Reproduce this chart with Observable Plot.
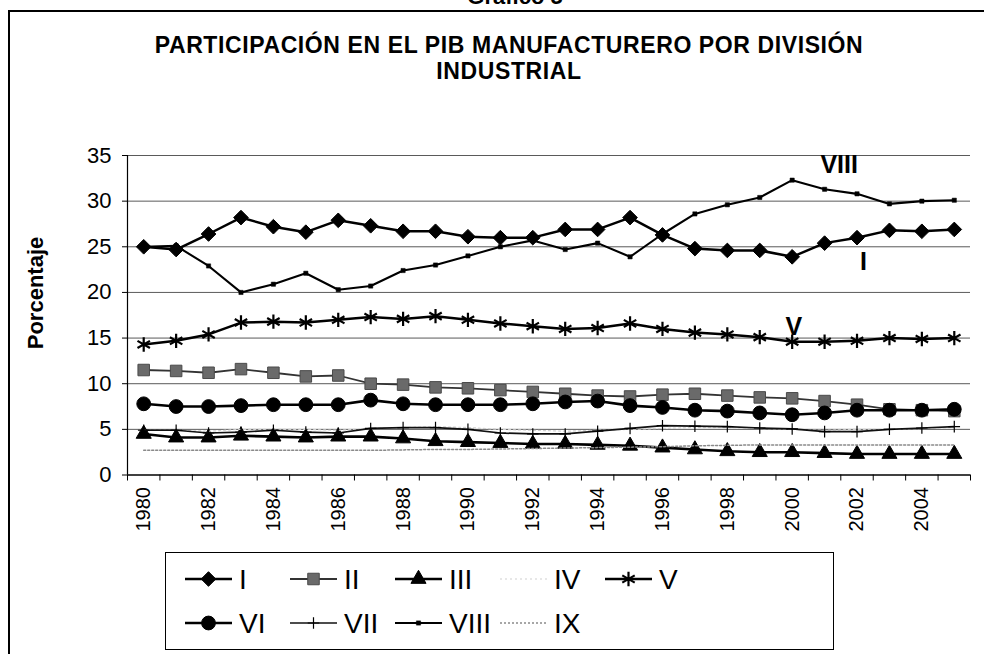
<!DOCTYPE html>
<html><head><meta charset="utf-8">
<script src="https://cdn.jsdelivr.net/npm/d3@7"></script>
<script src="https://cdn.jsdelivr.net/npm/@observablehq/plot@0.6"></script>
<style>
body{margin:0;background:#fff;font-family:"Liberation Sans",Arial,sans-serif;}
#wrap{position:relative;width:984px;height:654px;overflow:hidden;background:#fff;}
#frame{position:absolute;left:8px;top:10px;width:1200px;height:900px;border-left:2px solid #000;border-top:2px solid #000;}
#sup{position:absolute;left:0;width:1030px;top:-16px;text-align:center;font-weight:bold;font-size:22px;}
#title{position:absolute;left:34px;width:950px;top:32px;text-align:center;font-weight:bold;font-size:23px;line-height:26px;letter-spacing:0.6px;}
#chart{position:absolute;left:0;top:0;}
#ylab{position:absolute;left:36px;top:293px;transform:translate(-50%,-50%) rotate(-90deg);font-weight:bold;font-size:22px;white-space:nowrap;}
#legend{position:absolute;left:165px;top:552px;}
</style></head><body>
<div id="wrap">
  <div id="frame"></div>
  <div id="sup">Gráfico 5</div>
  <div id="title">PARTICIPACIÓN EN EL PIB MANUFACTURERO POR DIVISIÓN<br>INDUSTRIAL</div>
  <div id="chart"></div>
  <div id="ylab">Porcentaje</div>
  <svg id="legend" width="669" height="98"></svg>
</div>
<script>
const years = [1980,1981,1982,1983,1984,1985,1986,1987,1988,1989,1990,1991,1992,1993,1994,1995,1996,1997,1998,1999,2000,2001,2002,2003,2004,2005];
const labelYears = [1980,1982,1984,1986,1988,1990,1992,1994,1996,1998,2000,2002,2004];
const yTicks = [0,5,10,15,20,25,30,35];
const seriesNames = ["I","II","III","IV","V","VI","VII","VIII","IX"];

const sI    = [25.0,24.7,26.4,28.2,27.2,26.6,27.9,27.3,26.7,26.7,26.1,26.0,26.0,26.9,26.9,28.2,26.3,24.8,24.6,24.6,23.9,25.4,26.0,26.8,26.7,26.9];
const sII   = [11.5,11.4,11.2,11.6,11.2,10.8,10.9,10.0,9.9,9.6,9.5,9.3,9.1,8.9,8.7,8.6,8.8,8.9,8.7,8.5,8.4,8.1,7.7,7.2,7.1,7.0];
const sIII  = [4.5,4.1,4.1,4.3,4.2,4.1,4.2,4.2,4.0,3.7,3.6,3.5,3.4,3.4,3.3,3.2,3.0,2.8,2.6,2.5,2.5,2.4,2.3,2.3,2.3,2.3];
const sIV   = [4.9,4.9,4.8,5.0,5.0,5.0,4.9,5.1,5.2,5.3,5.2,5.0,4.9,4.8,4.9,5.0,5.1,5.2,5.2,5.1,5.0,4.9,5.0,5.0,5.1,5.2];
const sV    = [14.3,14.7,15.4,16.7,16.8,16.7,17.0,17.3,17.1,17.4,17.0,16.6,16.3,16.0,16.1,16.6,16.0,15.6,15.4,15.1,14.6,14.6,14.7,15.0,14.9,15.0];
const sVI   = [7.8,7.5,7.5,7.6,7.7,7.7,7.7,8.2,7.8,7.7,7.7,7.7,7.8,8.0,8.1,7.6,7.4,7.1,7.0,6.8,6.6,6.8,7.1,7.1,7.1,7.2];
const sVII  = [4.9,4.9,4.6,4.7,4.9,4.7,4.6,5.1,5.2,5.2,5.0,4.6,4.5,4.5,4.8,5.1,5.4,5.35,5.3,5.15,5.05,4.75,4.75,5.0,5.15,5.3];
const sVIII = [25.0,25.1,22.9,20.0,20.9,22.1,20.3,20.7,22.4,23.0,24.0,25.0,25.7,24.7,25.4,23.9,26.4,28.6,29.6,30.4,32.3,31.3,30.8,29.7,30.0,30.1];
const sIX   = [2.7,2.7,2.7,2.7,2.7,2.7,2.7,2.7,2.75,2.8,2.8,2.85,2.9,2.95,3.0,3.05,3.1,3.2,3.25,3.3,3.3,3.3,3.3,3.3,3.3,3.3];

const annotations = [
  {text:"VIII", year:2001.45, value:34.0},
  {text:"I",    year:2002.2,  value:23.3},
  {text:"V",    year:2000.05, value:16.2}
];

const seriesValues = [sI,sII,sIII,sIV,sV,sVI,sVII,sVIII,sIX];

const styles = {
  I:    {stroke:"#000", sw:2.5, symbol:"diamond2", r:6.6, fill:"#000", dstroke:"#000", dsw:1},
  II:   {stroke:"#333", sw:1.8, symbol:"square", r:6.5, fill:"#6a6a6a", dstroke:"#4a4a4a", dsw:1},
  III:  {stroke:"#000", sw:2.6, symbol:"triangle", r:5.6, fill:"#000", dstroke:"#000", dsw:1},
  IV:   {stroke:"#cfcfcf", sw:1.2, dash:"2,3", symbol:null},
  V:    {stroke:"#000", sw:2.5, symbol:"asterisk", r:6.8, fill:"none", dstroke:"#000", dsw:2.2},
  VI:   {stroke:"#000", sw:2.6, symbol:"circle", r:6.9, fill:"#000", dstroke:"#000", dsw:1},
  VII:  {stroke:"#111", sw:1.7, symbol:"plus", r:3.8, fill:"none", dstroke:"#000", dsw:1.2},
  VIII: {stroke:"#000", sw:2.1, symbol:"square", r:2.4, fill:"#000", dstroke:"#000", dsw:0.5},
  IX:   {stroke:"#8a8a8a", sw:1.5, dash:"2,2", symbol:null}
};

const rows = seriesNames.flatMap((name, i) =>
  years.map((yr, j) => ({serie: name, year: yr, value: seriesValues[i][j]})));

const boundaries = years.map(y => y - 0.5).concat([years[years.length-1] + 0.5]);

const seriesMarks = seriesNames.flatMap(name => {
  const st = styles[name];
  const data = rows.filter(d => d.serie === name);
  const m = [Plot.line(data, {x:"year", y:"value", stroke:st.stroke, strokeWidth:st.sw, strokeDasharray:st.dash})];
  if (st.symbol) m.push(Plot.dot(data, {x:"year", y:"value", symbol:()=>st.symbol, r:st.r, fill:st.fill, stroke:st.dstroke, strokeWidth:st.dsw}));
  return m;
});

const chart = Plot.plot({
  width: 984,
  height: 545,
  marginTop: 155,
  marginBottom: 70.5,
  marginLeft: 127,
  marginRight: 14,
  style: {fontFamily: '"Liberation Sans", Arial, sans-serif', background: "transparent", overflow: "visible"},
  x: {type: "linear", domain: [1979.5, 2005.5]},
  y: {domain: [0, 35]},
  symbol: {type: "identity"},
  marks: [
    Plot.ruleY(yTicks.filter(v => v > 0), {stroke: "#5a5a5a", strokeWidth: 1}),
    Plot.axisY(yTicks, {tickSize: 5, tickPadding: 11, fontSize: 22, label: null, stroke: "#000"}),
    Plot.axisX(boundaries, {tickSize: 6, tickFormat: () => "", label: null, stroke: "#000"}),
    Plot.axisX(labelYears, {tickSize: 0, tickPadding: 12, tickRotate: -90, tickFormat: d => String(d), fontSize: 20, label: null}),
    ...seriesMarks,
    Plot.ruleX([1979.5], {y1: 0, y2: 35, stroke: "#000", strokeWidth: 1.2}),
    Plot.ruleY([0], {stroke: "#000", strokeWidth: 1.6}),
    Plot.text(annotations, {x: "year", y: "value", text: "text", fontSize: 25, fontWeight: "bold", fill: "#000"})
  ]
});
document.getElementById("chart").appendChild(chart);

// Legend
const leg = d3.select("#legend");
leg.append("rect").attr("x",0.5).attr("y",0.5).attr("width",668).attr("height",97).attr("fill","#fff").attr("stroke","#000").attr("stroke-width",1);
const symMap = {diamond2:d3.symbolDiamond2, square:d3.symbolSquare, triangle:d3.symbolTriangle, asterisk:d3.symbolAsterisk, circle:d3.symbolCircle, plus:d3.symbolPlus};
seriesNames.forEach((name, i) => {
  const row = Math.floor(i / 5), col = i % 5;
  const x0 = 20 + col * 105, y0 = 27 + row * 44;
  const st = styles[name];
  const g = leg.append("g");
  g.append("line").attr("x1",x0).attr("x2",x0+47).attr("y1",y0).attr("y2",y0)
    .attr("stroke",st.stroke).attr("stroke-width",st.sw).attr("stroke-dasharray",st.dash||null);
  if (st.symbol) {
    g.append("path").attr("transform",`translate(${x0+23.5},${y0})`)
      .attr("d", d3.symbol(symMap[st.symbol], Math.PI*st.r*st.r)())
      .attr("fill", st.fill).attr("stroke", st.dstroke).attr("stroke-width", st.dsw);
  }
  g.append("text").attr("x",x0+54).attr("y",y0).attr("dy","0.36em")
    .attr("font-size",28).attr("font-family",'"Liberation Sans", Arial, sans-serif').text(name);
});
</script>
</body></html>
